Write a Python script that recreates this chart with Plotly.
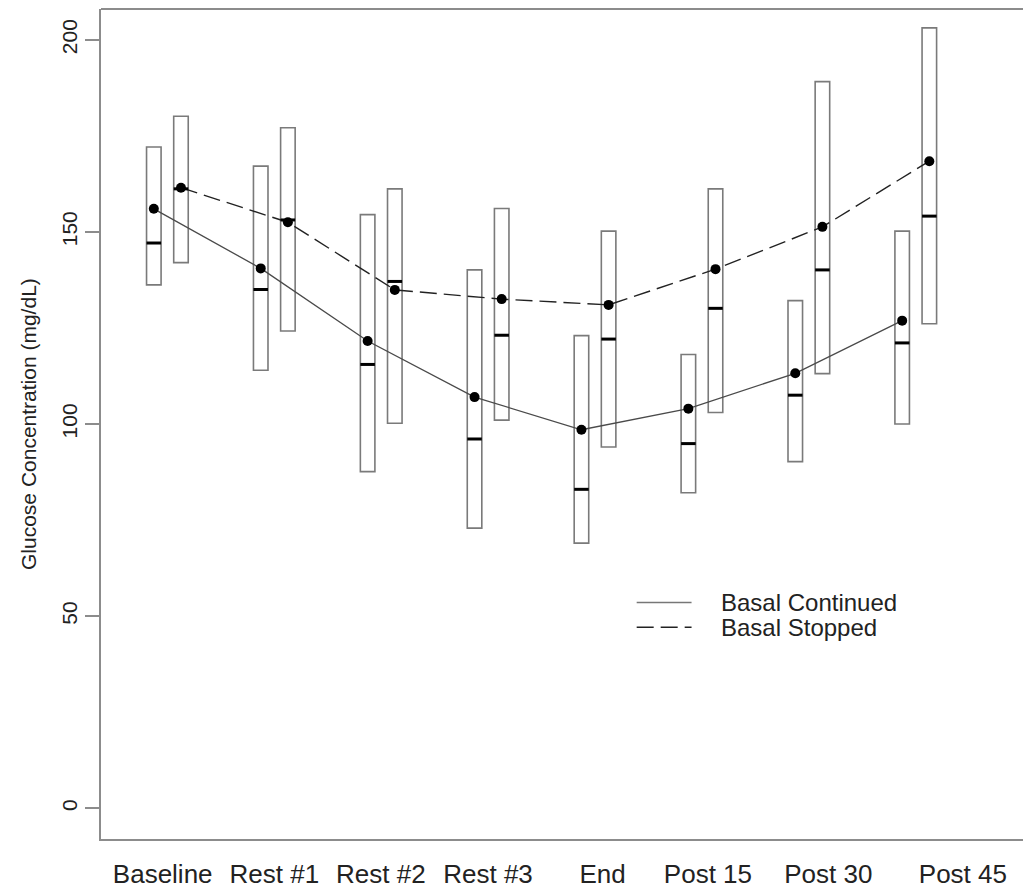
import plotly.graph_objects as go

categories = ["Baseline", "Rest #1", "Rest #2", "Rest #3", "End", "Post 15", "Post 30", "Post 45"]

cont_mean = [156.0, 140.5, 121.6, 107.0, 98.5, 104.0, 113.2, 126.9]
cont_median = [147.1, 135.0, 115.5, 96.1, 83.0, 94.9, 107.5, 121.1]
cont_low = [136.2, 114.0, 87.6, 72.9, 69.0, 82.1, 90.2, 100.0]
cont_high = [172.1, 167.1, 154.5, 140.1, 123.0, 118.1, 132.1, 150.2]

stop_mean = [161.5, 152.5, 134.9, 132.5, 131.0, 140.3, 151.3, 168.4]
stop_median = [161.2, 153.1, 137.1, 123.1, 122.1, 130.1, 140.1, 154.1]
stop_low = [142.0, 124.2, 100.2, 101.0, 94.0, 103.0, 113.1, 126.1]
stop_high = [180.1, 177.1, 161.2, 156.1, 150.2, 161.2, 189.1, 203.1]

y_ticks = [0, 50, 100, 150, 200]

# layout constants (positions, not data)
OFFSET = 0.127
HALF_W = 0.068
LABEL_POS = [0.956, 2.0, 2.996, 3.999, 5.07, 6.056, 7.182, 8.441]
FONT = "Liberation Sans, Arial, sans-serif"
BOX_COLOR = "#7a7a7a"
AXIS_COLOR = "#8c8c8c"

idx = list(range(1, len(categories) + 1))
x_cont = [i - OFFSET for i in idx]
x_stop = [i + OFFSET for i in idx]

fig = go.Figure()

for xs, lo, hi in [(x_cont, cont_low, cont_high), (x_stop, stop_low, stop_high)]:
    fig.add_trace(go.Bar(
        x=xs, y=[h - l for h, l in zip(hi, lo)], base=lo, width=2 * HALF_W,
        marker=dict(color="white", line=dict(color=BOX_COLOR, width=1.6)),
        showlegend=False, hoverinfo="skip"))

# mean lines
fig.add_trace(go.Scatter(x=x_cont, y=cont_mean, mode="lines",
                         line=dict(color="#4a4a4a", width=1.3), showlegend=False))
fig.add_trace(go.Scatter(x=x_stop, y=stop_mean, mode="lines",
                         line=dict(color="#222222", width=1.4, dash="17px,7px"), showlegend=False))

# medians
for xs, med in [(x_cont, cont_median), (x_stop, stop_median)]:
    mx, my = [], []
    for x, m in zip(xs, med):
        mx += [x - HALF_W, x + HALF_W, None]
        my += [m, m, None]
    fig.add_trace(go.Scatter(x=mx, y=my, mode="lines",
                             line=dict(color="black", width=3), showlegend=False))

# mean dots
fig.add_trace(go.Scatter(x=x_cont + x_stop, y=cont_mean + stop_mean, mode="markers",
                         marker=dict(color="black", size=10), showlegend=False))

# legend (manual)
fig.add_shape(type="line", xref="paper", yref="paper", x0=0.576, x1=0.635, y0=0.285, y1=0.285,
              line=dict(color="#777777", width=1.5))
fig.add_shape(type="line", xref="paper", yref="paper", x0=0.576, x1=0.635, y0=0.255, y1=0.255,
              line=dict(color="#222222", width=1.5, dash="17px,7px"))
fig.add_annotation(xref="paper", yref="paper", x=0.6645, y=0.285, xanchor="left", yanchor="middle",
                   text="Basal Continued", showarrow=False, font=dict(family=FONT, size=24, color="#222"))
fig.add_annotation(xref="paper", yref="paper", x=0.6645, y=0.255, xanchor="left", yanchor="middle",
                   text="Basal Stopped", showarrow=False, font=dict(family=FONT, size=24, color="#222"))

# top border of plot box (right side cropped in reference)
fig.add_shape(type="line", xref="paper", yref="paper", x0=0, x1=1, y0=1, y1=1,
              line=dict(color=AXIS_COLOR, width=2))

# y title
fig.add_annotation(xref="paper", yref="paper", x=-0.0785, y=0.50, xanchor="center", yanchor="middle",
                   text="Glucose Concentration (mg/dL)", textangle=-90, showarrow=False,
                   font=dict(family=FONT, size=21, color="#222"))

fig.update_layout(
    width=1023, height=883,
    margin=dict(l=93, r=0, t=1, b=52),
    paper_bgcolor="white", plot_bgcolor="white",
    barmode="overlay",
    xaxis=dict(range=[0.379, 9.078], tickvals=LABEL_POS, ticktext=categories,
               showgrid=False, zeroline=False, showline=True, linecolor=AXIS_COLOR, linewidth=2,
               ticks="", tickfont=dict(family=FONT, size=26, color="#222"), ticklabelstandoff=11),
    yaxis=dict(range=[-8, 208], tickvals=y_ticks, showgrid=False, zeroline=False,
               showline=True, linecolor=AXIS_COLOR, linewidth=2, ticks="outside", ticklen=14,
               tickcolor=AXIS_COLOR, tickwidth=1.5, tickangle=-90,
               tickfont=dict(family=FONT, size=21, color="#222")),
)

fig.write_html("out.html")
